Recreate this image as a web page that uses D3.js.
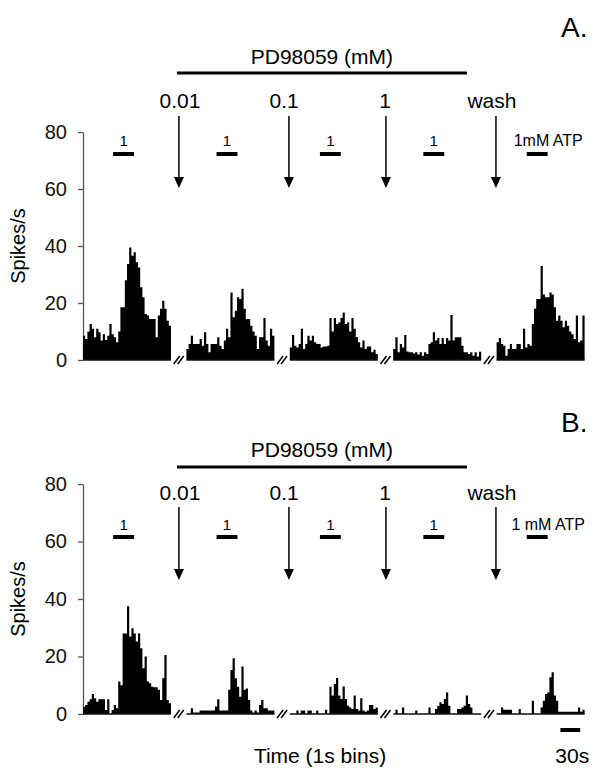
<!DOCTYPE html>
<html>
<head>
<meta charset="utf-8">
<script src="https://cdn.jsdelivr.net/npm/d3@7"></script>
<style>
  body { margin: 0; background: #fff; }
  svg { display: block; font-family: "Liberation Sans", Arial, Helvetica, sans-serif; }
</style>
</head>
<body>
<svg id="fig" width="602" height="777"></svg>
<script>
// spike rate per bin, 5 recordings each panel (ATP, 0.01, 0.1, 1 mM PD98059, wash)
var a1 = [8.5, 7.4, 10, 12.6, 11, 8, 11, 9.7, 6.8, 9, 7, 8.5, 12.6, 9, 8, 6.2, 10, 18.5, 18.5, 28,
          33.7, 39.5, 36.6, 37.8, 34.3, 32.5, 25.5, 22, 16.1, 15.6, 14.4, 14.4, 14.4, 8, 15.6, 18, 20.8, 18, 13.8, 12];
var a2 = [3.9, 5.6, 8.5, 5.6, 5.6, 5.6, 7.4, 5, 9.7, 5.6, 2.7, 5.6, 5.6, 5.6, 8, 5, 3.9, 6.8, 11, 8,
          23.7, 15, 17.3, 22, 21.4, 25, 18, 14.4, 14.4, 12, 10, 8.5, 3.9, 8, 8, 14.7, 6.8, 5, 11, 8.5];
var a3 = [4.4, 8.8, 5, 4.4, 5.6, 11, 3.9, 5.6, 8.5, 6.8, 8.5, 6.2, 5.6, 5.6, 4.4, 4.7, 4.7, 5, 14.7, 10,
          14.7, 12.6, 13.2, 14.7, 16.7, 12.6, 13.2, 10, 14.7, 11, 8, 6.2, 4.4, 6.8, 3.9, 4.7, 4.7, 2.7, 3.6, 2.1];
var a4 = [3.9, 8, 2.7, 5.6, 4.4, 8.8, 3, 2.7, 2.7, 2.3, 2.7, 1.9, 2.7, 1.5, 2.7, 2.1, 5.6, 6.2, 9.7, 6.8,
          7.7, 5.6, 7.7, 5.6, 7.7, 6.8, 15.8, 6.8, 8, 8, 8, 5, 2.7, 2.7, 2.1, 2.7, 1.5, 2.7, 1.2, 2.9];
var a5 = [6.2, 7.7, 5.6, 5, 1.5, 3.9, 5.6, 3.9, 3.9, 5.6, 5.6, 3.9, 11, 4.4, 5.6, 5, 12.6, 18, 21.4, 21.4,
          33, 23, 22, 22, 23.7, 23, 18.5, 13.8, 15.6, 13.8, 11.5, 13.8, 12, 10, 9, 7.4, 15.6, 6.2, 6.8, 15.6];

var b1 = [2.5, 3.1, 4.3, 5.1, 7, 5.5, 4.3, 5.1, 5.1, 5.1, 1.4, 5.1, 0.2, 1.4, 3.1, 2, 11.3, 10, 28, 28,
          37.5, 27, 29.8, 28, 25.2, 28, 22.9, 15.9, 20, 11.3, 10.7, 9.5, 9.3, 9.3, 8.4, 4.9, 12.4, 20.5, 4.9, 3.7];
var b2 = [0, 0.2, 2, 0.5, 0.5, 0.5, 1.2, 1.2, 1.2, 1.2, 1.2, 1.2, 1.2, 2.6, 5.1, 1.2, 1.2, 1.2, 1.2, 8.4,
          15.3, 19.4, 12.4, 9.5, 6, 16.5, 8.4, 8.9, 4.9, 1.2, 0.5, 1.2, 0.5, 3.1, 4.9, 2, 2, 1.2, 1.2, 1.2];
var b3 = [0, 0, 0, 1.2, 0, 1.2, 1.2, 0, 1.2, 1.2, 0, 0, 1.2, 0, 0, 0, 1.5, 0, 9.5, 6.4,
          10.4, 12.5, 6.4, 5.2, 9.6, 5.2, 2.9, 2.3, 1.7, 6.4, 1.7, 1.2, 5.5, 1.2, 0.8, 1.2, 3.1, 3.1, 1.7, 2.3];
var b4 = [0, 1.5, 0, 0, 2.3, 0, 0, 0, 0, 0, 1.2, 0, 0, 0, 0, 0, 2.3, 0, 0, 1.7,
          2.9, 4.1, 3.5, 5.2, 7.5, 2.9, 0, 0, 0, 1.7, 1.7, 2.3, 2.9, 6.4, 3.5, 2.3, 0, 0, 0, 0];
var b5 = [0, 0, 2.3, 1.5, 1.5, 1.5, 1.5, 0, 0, 0, 1.7, 0, 0, 0, 0, 0, 4.6, 0, 0, 0,
          2.3, 4.6, 7, 7.5, 12.8, 14.5, 6.4, 4.6, 0.8, 0.8, 0.8, 0.8, 0.8, 0.8, 0.8, 0.8, 0.8, 2.3, 0.8, 1.5];

var yTicks = [0, 20, 40, 60, 80];
var concLabels = ["0.01", "0.1", "1", "wash"];
// time positions in bins (segments of 40 bins, 7 bin gap between them)
var segLength = 40, segStep = 47;
var concArrowT = [43.6, 93.6, 137.7, 187.7];
var concLabelT = [44.1, 91.4, 137.3, 185.9];
var breakT = [43.5, 90.5, 137.5, 184.5];
var atpOffset = [13.7, 23.2];   // ATP application inside each segment
var drugBarT = [42.7, 174.5];
var scaleBarT = [217, 226];     // 30 s

var panels = [
  {letter: "A.", data: [a1, a2, a3, a4, a5], atpText: "1mM ATP",
   y0: 360, y80: 132, letterY: 37, drugTextY: 64, drugBarY: 73, concY: 108,
   arrowTop: 116, arrowTip: 188, atpNumY: 146, atpBarY: 154},
  {letter: "B.", data: [b1, b2, b3, b4, b5], atpText: "1 mM ATP",
   y0: 714, y80: 484, letterY: 432, drugTextY: 457, drugBarY: 467, concY: 500,
   arrowTop: 507, arrowTip: 580, atpNumY: 530, atpBarY: 537}
];

var svg = d3.select("#fig");
var x = d3.scaleLinear().domain([0, 4 * segStep + segLength]).range([83, 584.6]);

var area = d3.area()
    .curve(d3.curveStepAfter);

panels.forEach(function(p) {
  var y = d3.scaleLinear().domain([0, 80]).range([p.y0, p.y80]);
  var g = svg.append("g");

  // y axis
  var yAxis = d3.axisLeft(y)
      .tickValues(yTicks)
      .tickSize(5)
      .tickSizeOuter(0)
      .tickPadding(11);
  var gy = g.append("g")
      .attr("transform", "translate(" + x(0) + ",0)")
      .call(yAxis);
  gy.select(".domain").attr("stroke", "#555").attr("stroke-width", 1.3);
  gy.selectAll(".tick line").attr("stroke", "#555").attr("stroke-width", 1.3);
  gy.selectAll(".tick text")
      .attr("fill", "#111")
      .style("font-size", "20px");

  g.append("text")
      .attr("transform", "translate(25," + ((p.y0 + p.y80) / 2) + ") rotate(-90)")
      .attr("text-anchor", "middle")
      .style("font-size", "20px")
      .text("Spikes/s");

  // histograms
  p.data.forEach(function(vals, s) {
    var start = s * segStep;
    var pts = vals.map(function(v, i) { return {t: start + i, v: v}; });
    pts.push({t: start + vals.length, v: vals[vals.length - 1]});
    area.x(function(d) { return x(d.t); })
        .y0(y(0))
        .y1(function(d) { return y(d.v); });
    g.append("path")
        .datum(pts)
        .attr("fill", "#000")
        .attr("d", area);
    g.append("line")
        .attr("x1", x(start)).attr("x2", x(start + vals.length))
        .attr("y1", y(0)).attr("y2", y(0))
        .attr("stroke", "#111")
        .attr("stroke-width", 1.5);

    // ATP bar + label
    var ax0 = x(start + atpOffset[0]), ax1 = x(start + atpOffset[1]);
    g.append("line")
        .attr("x1", ax0).attr("x2", ax1)
        .attr("y1", p.atpBarY).attr("y2", p.atpBarY)
        .attr("stroke", "#000")
        .attr("stroke-width", 4);
    if (s < 4) {
      g.append("text")
          .attr("x", (ax0 + ax1) / 2)
          .attr("y", p.atpNumY)
          .attr("text-anchor", "middle")
          .style("font-size", "15px")
          .text("1");
    } else {
      g.append("text")
          .attr("x", (ax0 + ax1) / 2 + 11)
          .attr("y", p.atpNumY)
          .attr("text-anchor", "middle")
          .style("font-size", "16px")
          .text(p.atpText);
    }
  });

  // "//" breaks between recordings
  breakT.forEach(function(t) {
    var cx = x(t), cy = y(0);
    [-2, 2].forEach(function(dx) {
      g.append("line")
          .attr("x1", cx + dx - 3).attr("y1", cy + 4)
          .attr("x2", cx + dx + 3).attr("y2", cy - 4)
          .attr("stroke", "#000")
          .attr("stroke-width", 1.5);
    });
  });

  // drug application arrows
  concArrowT.forEach(function(t, i) {
    var ax = x(t);
    g.append("line")
        .attr("x1", ax).attr("x2", ax)
        .attr("y1", p.arrowTop).attr("y2", p.arrowTip - 8)
        .attr("stroke", "#000")
        .attr("stroke-width", 1.5);
    g.append("path")
        .attr("d", "M" + (ax - 5) + "," + (p.arrowTip - 11) + "L" + (ax + 5) + "," + (p.arrowTip - 11) +
                   "L" + ax + "," + p.arrowTip + "Z")
        .attr("fill", "#000");
    g.append("text")
        .attr("x", x(concLabelT[i]))
        .attr("y", p.concY)
        .attr("text-anchor", "middle")
        .style("font-size", "21px")
        .text(concLabels[i]);
  });

  // PD98059 bar
  g.append("line")
      .attr("x1", x(drugBarT[0])).attr("x2", x(drugBarT[1]))
      .attr("y1", p.drugBarY).attr("y2", p.drugBarY)
      .attr("stroke", "#000")
      .attr("stroke-width", 3);
  g.append("text")
      .attr("x", (x(drugBarT[0]) + x(drugBarT[1])) / 2)
      .attr("y", p.drugTextY)
      .attr("text-anchor", "middle")
      .style("font-size", "21px")
      .text("PD98059 (mM)");

  g.append("text")
      .attr("x", 561)
      .attr("y", p.letterY)
      .style("font-size", "28px")
      .text(p.letter);
});

// bottom: x label and 30 s scale bar
svg.append("text")
    .attr("x", 320)
    .attr("y", 763)
    .attr("text-anchor", "middle")
    .style("font-size", "21px")
    .text("Time (1s bins)");
svg.append("line")
    .attr("x1", x(scaleBarT[0])).attr("x2", x(scaleBarT[1]))
    .attr("y1", 730).attr("y2", 730)
    .attr("stroke", "#000")
    .attr("stroke-width", 4);
svg.append("text")
    .attr("x", (x(scaleBarT[0]) + x(scaleBarT[1])) / 2 + 2)
    .attr("y", 763)
    .attr("text-anchor", "middle")
    .style("font-size", "21px")
    .text("30s");
</script>
</body>
</html>
